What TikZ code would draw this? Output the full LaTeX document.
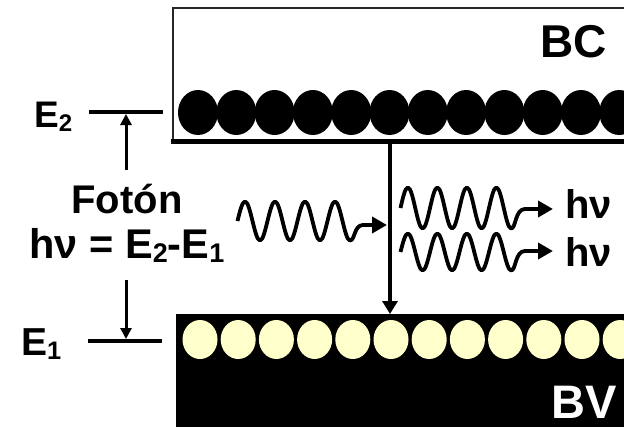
\documentclass[tikz,border=0pt]{standalone}
\usepackage{fontspec}
\setmainfont{Liberation Sans}
\usepackage{graphicx}
\usetikzlibrary{arrows.meta}
\definecolor{cream}{RGB}{255,255,204}
\newcommand\lsub[1]{\raisebox{-0.12em}{\scalebox{0.65}{#1}}}
\begin{document}
\begin{tikzpicture}[x=1pt,y=-1pt,
  lbl/.style={inner sep=0pt,font=\fontsize{40}{42}\selectfont\bfseries},
  band/.style={inner sep=0pt,font=\fontsize{46}{48}\selectfont\bfseries},
  hnu/.style={inner sep=0pt,font=\fontsize{40}{42}\selectfont\bfseries},
  level/.style={line width=4pt},
  smallarr/.style={line width=3pt,-{Triangle[length=11pt,width=11pt]}},
  bigarr/.style={line width=3.5pt,-{Triangle[length=13pt,width=15pt]}},
  wave/.style={line width=3.8pt,line join=round,-{Triangle[length=15pt,width=16pt]}}]
\useasboundingbox (0,0) rectangle (624,426);
\clip (0,0) rectangle (624,426);
% conduction band
\draw[line width=2pt,black!85] (640,8) -- (173,8) -- (173,141);
\draw[line width=4.5pt] (171,141.5) -- (640,141.5);
\foreach \i in {0,...,11}
  \fill ({198+38.3*\i},112.5) ellipse [x radius=20pt,y radius=22.5pt];
\node[band,anchor=base east] (bc) at (607,57) {BC};
% valence band
\fill (176,314) rectangle (640,440);
\foreach \i in {0,...,11}
  \fill[cream] ({200+38.2*\i},339.5) ellipse [x radius=17.5pt,y radius=19.5pt];
\node[band,white,anchor=base east,font=\fontsize{47}{49}\selectfont\bfseries] (bv) at (617,418) {BV};
% energy levels
\coordinate (e2a) at (89,112);  \coordinate (e2b) at (163,112);
\coordinate (e1a) at (88,341);  \coordinate (e1b) at (162,341);
\draw[level] (e2a) -- (e2b);
\draw[level] (e1a) -- (e1b);
\node[lbl,anchor=base west,font=\fontsize{37}{39}\selectfont\bfseries] (E2) at (34,127) {E\lsub{2}};
\node[lbl,anchor=base west,font=\fontsize{39}{41}\selectfont\bfseries] (E1) at (21,355) {E\lsub{1}};
\node[lbl,anchor=base] (foton) at (127,213) {Fotón};
\node[lbl,anchor=base,font=\fontsize{41.5}{43}\selectfont\bfseries] (eq) at (127,258) {hν = E\lsub{2}-E\lsub{1}};
\coordinate (upS) at (126,170); \coordinate (upE) at (126,114);
\coordinate (dnS) at (126,280); \coordinate (dnE) at (126,339);
\draw[smallarr] (upS) -- (upE);
\draw[smallarr] (dnS) -- (dnE);
% transition
\coordinate (tr0) at (390,143); \coordinate (tr1) at (390,314);
\draw[bigarr] (tr0) -- (tr1);
% incoming photon
\coordinate (w0s) at (237.5,221); \coordinate (w0e) at (387,225);
\draw[wave] (w0s)
  \foreach \k in {1,2,3}{ sin ++(7.5,-19.5) cos ++(7.5,19.5) sin ++(7.5,19.5) cos ++(7.5,-19.5) }
  sin ++(7.5,-19.5) cos ++(7.5,19.5) sin ++(7.5,19.5)
  .. controls (355,240.5) and (354,225) .. (363,225) -- (w0e);
% emitted photons
\coordinate (w1s) at (400.5,208); \coordinate (w1e) at (553,209);
\draw[wave] (w1s)
  \foreach \k in {1,2,3}{ sin ++(7.375,-20.5) cos ++(7.375,20.5) sin ++(7.375,20.5) cos ++(7.375,-20.5) }
  sin ++(7.375,-20.5) cos ++(7.375,20.5) sin ++(7.375,20.5)
  .. controls (516,228.5) and (515,209) .. (525,209) -- (w1e);
\coordinate (w2s) at (400.5,252); \coordinate (w2e) at (553,251);
\draw[wave] (w2s)
  \foreach \k in {1,2,3}{ sin ++(7.375,-18.5) cos ++(7.375,18.5) sin ++(7.375,18.5) cos ++(7.375,-18.5) }
  sin ++(7.375,-18.5) cos ++(7.375,18.5) sin ++(7.375,18.5)
  .. controls (516,270.5) and (515,251) .. (525,251) -- (w2e);
\node[hnu,anchor=base west] (hn1) at (565,218) {hν};
\node[hnu,anchor=base west] (hn2) at (565,266) {hν};
\end{tikzpicture}
\end{document}
